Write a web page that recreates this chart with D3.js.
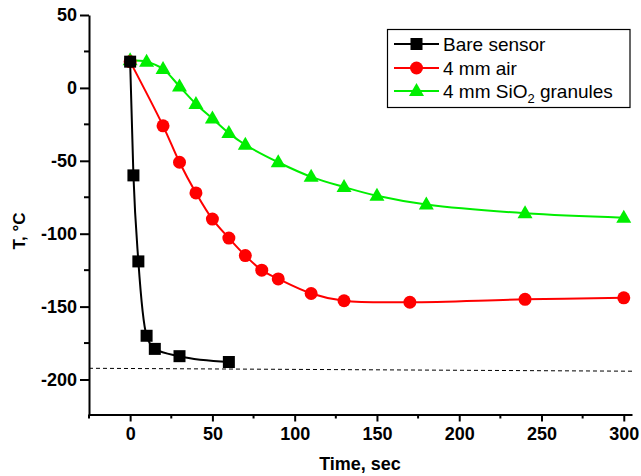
<!DOCTYPE html>
<html>
<head>
<meta charset="utf-8">
<script src="https://d3js.org/d3.v7.min.js"></script>
<style>
  body { margin: 0; background: #fff; }
  svg { font-family: "Liberation Sans", Arial, Helvetica, sans-serif; }
  .tick text { font-size: 18px; font-weight: bold; fill: #000; }
  .axis path, .axis line { stroke: #000; stroke-width: 2px; }
</style>
</head>
<body>
<svg id="chart" width="641" height="476"></svg>
<script>
  // data
  var bareT = [0, 2, 5, 10, 15, 30, 60];
  var bareV = [18, -60, -119, -170, -179, -184, -188];

  var airT = [0, 20, 30, 40, 50, 60, 70, 80, 90, 110, 130, 170, 240, 300];
  var airV = [18, -26, -51, -72, -90, -103, -115, -125, -131, -141, -146, -147, -145, -144];

  var sioT = [0, 10, 20, 30, 40, 50, 60, 70, 90, 110, 130, 150, 180, 240, 300];
  var sioV = [19, 18, 13, 1, -11, -21, -31, -39, -51, -61, -68, -74, -80, -86, -89];

  var refT = [-25, 305];
  var refV = [-192.3, -194.3];

  var xTicks = [0, 50, 100, 150, 200, 250, 300];
  var yTicks = [50, 0, -50, -100, -150, -200];

  var svg = d3.select("#chart");
  var x = d3.scaleLinear().domain([-25, 305]).range([89, 632]);
  var y = d3.scaleLinear().domain([-224, 50]).range([414.5, 15]);
  var fmt = function (d) { return String(d); };   // plain hyphen minus

  // axes
  var xMinor = d3.range(-25, 305, 25).filter(function (d) { return d % 50 != 0; });
  var yMinor = d3.range(-225, 50, 25).filter(function (d) { return d % 50 != 0 && d >= -224; });

  var gx = svg.append("g").attr("class", "axis").attr("transform", "translate(0," + y(-224) + ")");
  gx.call(d3.axisBottom(x).tickValues(xTicks).tickFormat(fmt).tickSize(7).tickPadding(6).tickSizeOuter(0));
  gx.selectAll("line.minor").data(xMinor).enter().append("line").attr("class", "minor")
    .attr("x1", function (d) { return x(d); }).attr("x2", function (d) { return x(d); })
    .attr("y1", 0).attr("y2", 4).attr("stroke", "#000").attr("stroke-width", 2);

  var gy = svg.append("g").attr("class", "axis").attr("transform", "translate(" + x(-25) + ",0)");
  gy.call(d3.axisLeft(y).tickValues(yTicks).tickFormat(fmt).tickSize(9).tickPadding(3).tickSizeOuter(0));
  gy.selectAll("line.minor").data(yMinor).enter().append("line").attr("class", "minor")
    .attr("y1", function (d) { return y(d); }).attr("y2", function (d) { return y(d); })
    .attr("x1", 0).attr("x2", -5).attr("stroke", "#000").attr("stroke-width", 2);

  svg.append("text").attr("x", 360).attr("y", 470).attr("text-anchor", "middle")
    .style("font-size", "18px").style("font-weight", "bold").text("Time, sec");
  svg.append("text").attr("transform", "translate(25,231) rotate(-90)").attr("text-anchor", "middle")
    .style("font-size", "17px").style("font-weight", "bold").text("T, °C");

  // dashed reference line
  svg.append("line")
    .attr("x1", x(refT[0])).attr("y1", y(refV[0]))
    .attr("x2", x(refT[1])).attr("y2", y(refV[1]))
    .attr("stroke", "#000").attr("stroke-width", 1).attr("stroke-dasharray", "4,3");

  var series = [
    { t: bareT, v: bareV, color: "#000000", shape: "square", curve: d3.curveMonotoneX, name: "Bare sensor" },
    { t: airT, v: airV, color: "#ff0000", shape: "circle", curve: d3.curveCatmullRom, name: "4 mm air" },
    { t: sioT, v: sioV, color: "#00ee00", shape: "triangle", curve: d3.curveCatmullRom, name: "4 mm SiO2 granules" }
  ];

  function marker(g, shape, color, cx, cy) {
    if (shape == "square") {
      g.append("rect").attr("x", cx - 6).attr("y", cy - 6).attr("width", 12).attr("height", 12).attr("fill", color);
    } else if (shape == "circle") {
      g.append("circle").attr("cx", cx).attr("cy", cy).attr("r", 6.5).attr("fill", color);
    } else {
      g.append("path").attr("d", "M" + cx + "," + (cy - 8) + "L" + (cx + 7.5) + "," + (cy + 5) + "L" + (cx - 7.5) + "," + (cy + 5) + "Z")
        .attr("fill", color);
    }
  }

  // draw in reverse so black sits on top
  series.slice().reverse().forEach(function (s) {
    var pts = s.t.map(function (t, i) { return [t, s.v[i]]; });
    var line = d3.line().x(function (d) { return x(d[0]); }).y(function (d) { return y(d[1]); }).curve(s.curve);
    svg.append("path").attr("d", line(pts)).attr("fill", "none").attr("stroke", s.color).attr("stroke-width", 2);
    var g = svg.append("g");
    pts.forEach(function (d) { marker(g, s.shape, s.color, x(d[0]), y(d[1])); });
  });

  // legend
  var lg = svg.append("g");
  lg.append("rect").attr("x", 387.5).attr("y", 29.5).attr("width", 242.5).attr("height", 78)
    .attr("fill", "#fff").attr("stroke", "#000").attr("stroke-width", 1.2);
  var rowY = [44, 68, 91];
  series.forEach(function (s, i) {
    lg.append("line").attr("x1", 394).attr("x2", 439).attr("y1", rowY[i]).attr("y2", rowY[i])
      .attr("stroke", s.color).attr("stroke-width", 2);
    marker(lg, s.shape, s.color, 416.5, rowY[i]);
    var tx = lg.append("text").attr("x", 443).attr("y", rowY[i] + 6.5).style("font-size", "19px");
    if (i == 2) {
      tx.append("tspan").text("4 mm SiO");
      tx.append("tspan").attr("dy", 5).style("font-size", "13px").text("2");
      tx.append("tspan").attr("dy", -5).text(" granules");
    } else {
      tx.text(s.name);
    }
  });
</script>
</body>
</html>
